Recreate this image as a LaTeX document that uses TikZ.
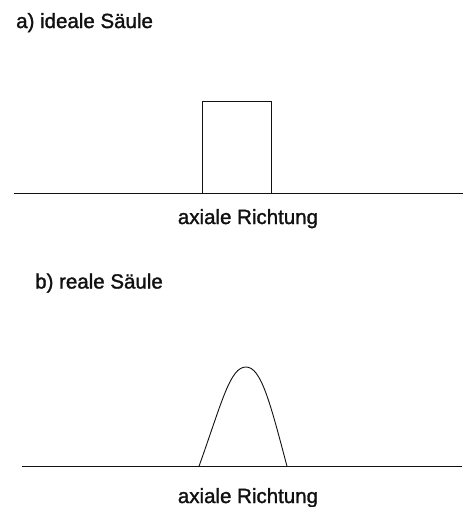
\documentclass[tikz,border=0pt]{standalone}
\usepackage{fontspec}
\setmainfont{Liberation Sans}[BoldFont=Liberation Sans, BoldFeatures={FakeBold=1.5}]
\definecolor{ink}{HTML}{111111}

\begin{document}
\begin{tikzpicture}[x=1pt, y=-1pt,
  caption/.style={text=ink, font=\fontsize{20.5}{24}\selectfont\bfseries, inner sep=0pt},
  axisline/.style={ink, line width=1.1pt},
  profile/.style={ink, line width=0.9pt}]

% Background
\useasboundingbox[fill=white] (0,0) rectangle (471,507);

% --- a) ideal column ---
\node[caption, anchor=base west] (titleA) at (16,28) {a) ideale Säule};
\coordinate (axisAstart) at (14,193.5);
\coordinate (axisAend) at (463,193.5);
\draw[axisline] (axisAstart) -- (axisAend);
\draw[profile] (202.5,193.5) -- (202.5,101) -- (271.5,101) -- (271.5,193.5);
\node[caption, anchor=base] (dirA) at (248,224) {axiale Richtung};

% --- b) real column ---
\node[caption, anchor=base west] (titleB) at (35,288.5) {b) reale Säule};
\coordinate (axisBstart) at (22,466.3);
\coordinate (axisBend) at (462,466.3);
\draw[axisline] (axisBstart) -- (axisBend);
\draw[profile] (199,466.3) .. controls (222,402) and (230,367) .. (246,367)
  .. controls (261,367) and (270,402) .. (287,466.3);
\node[caption, anchor=base] (dirB) at (248,503) {axiale Richtung};

\end{tikzpicture}
\end{document}
